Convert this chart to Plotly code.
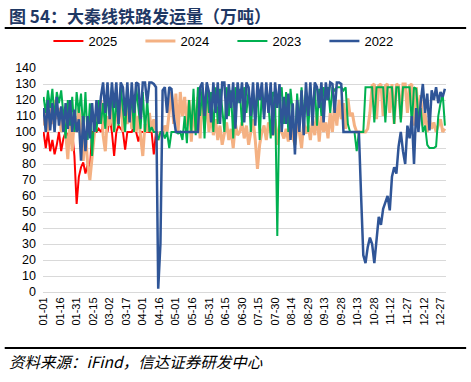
import pandas as pd
import plotly.graph_objects as go

# Day positions: every 2nd day of a (non-leap) reference year
dates = pd.date_range("2023-01-01", periods=183, freq="2D")

v2025 = [100, 90, 100, 88, 95, 86, 92, 100, 88, 96,
         100, 98, 100, 100, 85, 55, 72, 78, 81, 74,
         80, 76, 100, 100, 100, 102, 100, 104, 108, 100,
         109, 100, 85, 100, 104, 102, 100, 89, 100, 100,
         100, 104, 100, 94, 100, 100, 100, 100, 100, 100,
         86, 100, 100]

v2024 = [104, 112, 100, 118, 105, 120, 108, 115, 100, 112,
         100, 83, 108, 88, 110, 100, 115, 102, 82, 100,
         80, 70, 84, 100, 112, 105, 120, 98, 88, 110,
         104, 118, 100, 112, 108, 120, 100, 115, 105, 118,
         102, 120, 100, 110, 98, 85, 105, 100, 112, 100,
         108, 100, 95, 100, 98, 104, 100, 112, 125, 105,
         124, 100, 125, 110, 122, 104, 120, 94, 118, 100,
         122, 96, 125, 105, 120, 100, 112, 98, 108, 95,
         104, 92, 100, 106, 95, 102, 90, 105, 98, 100,
         106, 96, 104, 92, 100, 108, 95, 77, 92, 100,
         104, 95, 106, 100, 98, 108, 92, 104, 100, 96,
         102, 94, 108, 97, 92, 105, 100, 90, 106, 99,
         104, 95, 108, 98, 112, 94, 110, 100, 106, 96,
         112, 100, 118, 104, 120, 108, 118, 102, 121, 110,
         112, 104, 100, 100, 100, 100, 100, 102, 112, 129,
         130, 108, 129, 130, 110, 129, 130, 112, 130, 105,
         130, 129, 108, 130, 130, 112, 129, 130, 104, 128,
         110, 123, 104, 112, 100, 108, 102, 106, 100, 104,
         108, 100, 102]

v2023 = [122, 112, 126, 115, 127, 108, 125, 118, 126, 110,
         96, 120, 104, 122, 100, 125, 112, 124, 100, 125,
         95, 118, 85, 110, 100, 120, 105, 118, 102, 125,
         110, 128, 100, 122, 104, 128, 112, 100, 126, 108,
         124, 100, 128, 115, 102, 125, 100, 120, 100, 103,
         100, 100, 95, 100, 100, 96, 100, 90, 100, 100,
         100, 99, 100, 95, 110, 93, 120, 100, 127, 98,
         128, 110, 127, 96, 128, 112, 125, 100, 128, 105,
         127, 115, 100, 128, 110, 126, 96, 128, 118, 127,
         104, 128, 112, 127, 100, 125, 108, 128, 95, 126,
         110, 128, 118, 96, 125, 122, 35, 120, 128, 105,
         125, 100, 127, 112, 90, 124, 105, 128, 108, 126,
         100, 125, 115, 128, 104, 127, 110, 128, 120, 128,
         112, 128, 126, 128, 128, 128, 126, 128, 105, 100,
         100, 100, 88, 100, 100, 100, 128, 128, 128, 128,
         106, 128, 128, 128, 128, 106, 128, 128, 128, 105,
         128, 128, 106, 128, 128, 128, 128, 105, 128, 127,
         108, 115, 100, 104, 92, 90, 90, 90, 91, 110,
         118, 124, 104]

v2022 = [115, 100, 120, 101, 118, 100, 122, 104, 116, 100,
         118, 102, 120, 100, 114, 100, 108, 82, 110, 88,
         110, 96, 118, 100, 120, 105, 122, 131, 112, 131,
         108, 131, 115, 131, 105, 131, 128, 110, 131, 106,
         131, 112, 131, 130, 108, 131, 131, 118, 131, 131,
         130, 128, 2, 30, 126, 128, 112, 128, 127, 110,
         100, 100, 100, 100, 100, 100, 100, 100, 100, 100,
         100, 128, 131, 110, 131, 125, 106, 131, 112, 131,
         105, 131, 131, 108, 130, 115, 131, 102, 131, 118,
         131, 106, 131, 128, 110, 131, 104, 131, 120, 131,
         108, 131, 112, 131, 98, 131, 115, 130, 100, 122,
         105, 124, 95, 118, 86, 120, 100, 126, 98, 131,
         110, 131, 104, 131, 128, 115, 131, 106, 131, 120,
         131, 130, 112, 131, 131, 130, 100, 100, 100, 100,
         100, 100, 100, 100, 60, 23, 18, 28, 34, 30,
         18, 32, 47, 42, 52, 56, 60, 51, 72, 78,
         74, 91, 100, 88, 80, 104, 96, 110, 80, 115,
         100, 118, 130, 112, 124, 101, 126, 120, 128, 118,
         125, 122, 127]

series = [
    ("2025", v2025, "#FF0000", 2),
    ("2024", v2024, "#F4B183", 3),
    ("2023", v2023, "#00B050", 2),
    ("2022", v2022, "#2F5597", 2.5),
]

fig = go.Figure()
for name, vals, color, w in series:
    fig.add_trace(go.Scatter(
        x=dates[:len(vals)], y=vals, name=name, mode="lines",
        line=dict(color=color, width=w),
    ))

fig.update_layout(
    width=471, height=382,
    margin=dict(l=43, r=25, t=68, b=90),
    paper_bgcolor="white", plot_bgcolor="white",
    font=dict(family="Liberation Sans, Arial, sans-serif", size=12, color="#000000"),
    showlegend=True,
    legend=dict(orientation="h", x=0.47, xanchor="center", y=1.12, yanchor="middle",
                font=dict(size=13), entrywidth=47, traceorder="normal",
                bgcolor="rgba(0,0,0,0)"),
    xaxis=dict(
        type="date",
        range=["2022-12-31 12:00", "2024-01-01 00:00"],
        tick0="2023-01-01", dtick=15 * 86400000, tickformat="%m-%d",
        tickangle=-90, tickfont=dict(size=11),
        showgrid=False, showline=True, linecolor="#D9D9D9", linewidth=1,
        ticks="", zeroline=False,
    ),
    yaxis=dict(
        range=[0, 140], dtick=10, tickfont=dict(size=12.5),
        showgrid=True, gridcolor="#D9D9D9", gridwidth=1,
        zeroline=False, showline=False, ticks="", ticklabelstandoff=6,
    ),
)

fig.add_annotation(
    xref="paper", yref="paper", x=-0.09, y=(292 - 15) / 224,
    xanchor="left", yanchor="middle", showarrow=False,
    text="<b>图 54：大秦线铁路发运量（万吨）</b>",
    font=dict(family="Noto Sans CJK SC", size=17, color="#1F3864"),
)
fig.add_shape(type="line", xref="paper", yref="paper",
              x0=-0.095, x1=1.05, y0=(292 - 28) / 224, y1=(292 - 28) / 224,
              line=dict(color="#000000", width=2))
fig.add_shape(type="line", xref="paper", yref="paper",
              x0=-0.095, x1=1.05, y0=(292 - 348) / 224, y1=(292 - 348) / 224,
              line=dict(color="#000000", width=2))
fig.add_annotation(
    xref="paper", yref="paper", x=-0.09, y=(292 - 361) / 224,
    xanchor="left", yanchor="middle", showarrow=False,
    text="资料来源：iFind，信达证券研发中心",
    font=dict(family="Noto Sans CJK SC", size=15.5, color="#000000", style="italic"),
)

fig.write_html("out.html", config={"displayModeBar": False},
               post_script="document.body.style.margin='0';")
